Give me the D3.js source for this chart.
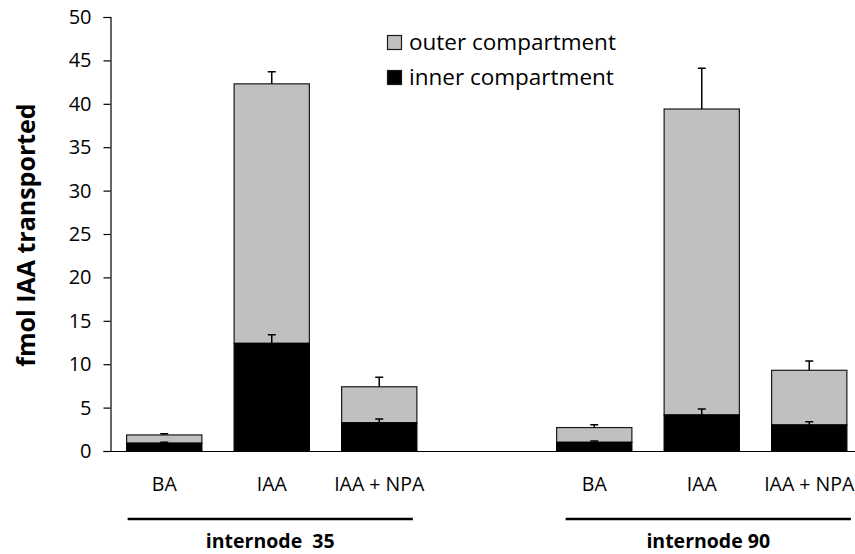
<!DOCTYPE html>
<html>
<head>
<meta charset="utf-8">
<script src="https://cdn.jsdelivr.net/npm/d3@7"></script>
<style>
  body { margin: 0; background: #fff; }
  text { font-family: "Open Sans", Lato, sans-serif; fill: #000; }
</style>
</head>
<body>
<div id="chart"></div>
<script>
// data
const slots = ["35-BA", "35-IAA", "35-NPA", "gap", "90-BA", "90-IAA", "90-NPA"];
const barLabels = ["BA", "IAA", "IAA + NPA", "", "BA", "IAA", "IAA + NPA"];
const innerValues = [0.9, 12.4, 3.25, null, 1.0, 4.15, 3.0];
const outerValues = [0.95, 29.9, 4.15, null, 1.7, 35.25, 6.3];
const innerErr = [0.1, 1.0, 0.45, null, 0.15, 0.7, 0.37];
const totalErr = [0.15, 1.4, 1.1, null, 0.33, 4.7, 1.07];
const groups = [
  { name: "internode  35", from: "35-BA", to: "35-NPA" },
  { name: "internode 90", from: "90-BA", to: "90-NPA" }
];
const yTicks = [0, 5, 10, 15, 20, 25, 30, 35, 40, 45, 50];
const legendItems = [
  { label: "outer compartment", color: "#c0c0c0" },
  { label: "inner compartment", color: "#000000" }
];

// how far each group underline sits from the outer bar edges (left, right)
const lineInset = [[1, -4], [9, 4]];

const W = 855, H = 554;
const svg = d3.select("#chart").append("svg")
  .attr("width", W)
  .attr("height", H);

const x = d3.scaleBand().domain(slots).range([110.5, 863]).paddingInner(0.3).paddingOuter(0.15);
const y = d3.scaleLinear().domain([0, 50]).range([451, 17]);

// y axis
const yAxis = svg.append("g")
  .attr("transform", "translate(110.5,0)")
  .call(d3.axisLeft(y).tickValues(yTicks).tickSize(7).tickPadding(12));
yAxis.select(".domain").attr("stroke", "#000").attr("stroke-width", 1.2);
yAxis.selectAll(".tick line").attr("stroke", "#000").attr("stroke-width", 1.2);
yAxis.selectAll(".tick text").attr("font-size", 20).attr("font-family", "'Open Sans', sans-serif");

// baseline
svg.append("line")
  .attr("x1", 110).attr("x2", W)
  .attr("y1", y(0) + 0.5).attr("y2", y(0) + 0.5)
  .attr("stroke", "#000").attr("stroke-width", 1.2);

const rows = slots.map((s, i) => ({
  slot: s, label: barLabels[i], inner: innerValues[i], outer: outerValues[i],
  ie: innerErr[i], te: totalErr[i]
})).filter(d => d.inner !== null);

const bw = x.bandwidth();

// outer (grey) segment
svg.selectAll("rect.outer").data(rows).join("rect")
  .attr("class", "outer")
  .attr("x", d => x(d.slot))
  .attr("width", bw)
  .attr("y", d => y(d.inner + d.outer))
  .attr("height", d => y(d.inner) - y(d.inner + d.outer))
  .attr("fill", "#c0c0c0")
  .attr("stroke", "#1a1a1a")
  .attr("stroke-width", 1.2);

// inner (black) segment
svg.selectAll("rect.inner").data(rows).join("rect")
  .attr("class", "inner")
  .attr("x", d => x(d.slot))
  .attr("width", bw)
  .attr("y", d => y(d.inner))
  .attr("height", d => y(0) - y(d.inner))
  .attr("fill", "#000")
  .attr("stroke", "#000")
  .attr("stroke-width", 1.2);

// error bars
function errBar(base, err) {
  return d => {
    const cx = x(d.slot) + bw / 2;
    const y0 = y(base(d)), y1 = y(base(d) + err(d));
    return `M${cx},${y0}V${y1}M${cx - 4},${y1}H${cx + 4}`;
  };
}
svg.selectAll("path.errTotal").data(rows).join("path")
  .attr("class", "errTotal")
  .attr("d", errBar(d => d.inner + d.outer, d => d.te))
  .attr("stroke", "#000").attr("stroke-width", 1.5).attr("fill", "none");
svg.selectAll("path.errInner").data(rows).join("path")
  .attr("class", "errInner")
  .attr("d", errBar(d => d.inner, d => d.ie))
  .attr("stroke", "#000").attr("stroke-width", 1.5).attr("fill", "none");

// category labels
svg.selectAll("text.cat").data(rows).join("text")
  .attr("class", "cat")
  .attr("x", d => x(d.slot) + bw / 2)
  .attr("y", 491)
  .attr("text-anchor", "middle")
  .attr("font-size", 19.5)
  .text(d => d.label);

// group lines and labels
groups.forEach((g, i) => {
  const x1 = x(g.from) + lineInset[i][0], x2 = x(g.to) + bw + lineInset[i][1];
  svg.append("line")
    .attr("x1", x1).attr("x2", x2)
    .attr("y1", 519).attr("y2", 519)
    .attr("stroke", "#000").attr("stroke-width", 2.5);
  svg.append("text")
    .attr("x", (x1 + x2) / 2)
    .attr("y", 548)
    .attr("text-anchor", "middle")
    .attr("font-size", 19.5)
    .attr("font-weight", "bold")
    .style("white-space", "pre")
    .text(g.name);
});

// y axis title
svg.append("text")
  .attr("transform", "translate(35,235) rotate(-90)")
  .attr("text-anchor", "middle")
  .attr("font-size", 25)
  .attr("font-weight", "bold")
  .text("fmol IAA transported");

// legend
const legend = svg.append("g").attr("transform", "translate(387,35)");
legendItems.forEach((it, i) => {
  const row = legend.append("g").attr("transform", `translate(0,${i * 35})`);
  row.append("rect")
    .attr("x", 0.5).attr("y", 0.5)
    .attr("width", 14).attr("height", 14)
    .attr("fill", it.color)
    .attr("stroke", "#1a1a1a").attr("stroke-width", 1.2);
  row.append("text")
    .attr("x", 22).attr("y", 15)
    .attr("font-size", 22.5)
    .text(it.label);
});
</script>
</body>
</html>
